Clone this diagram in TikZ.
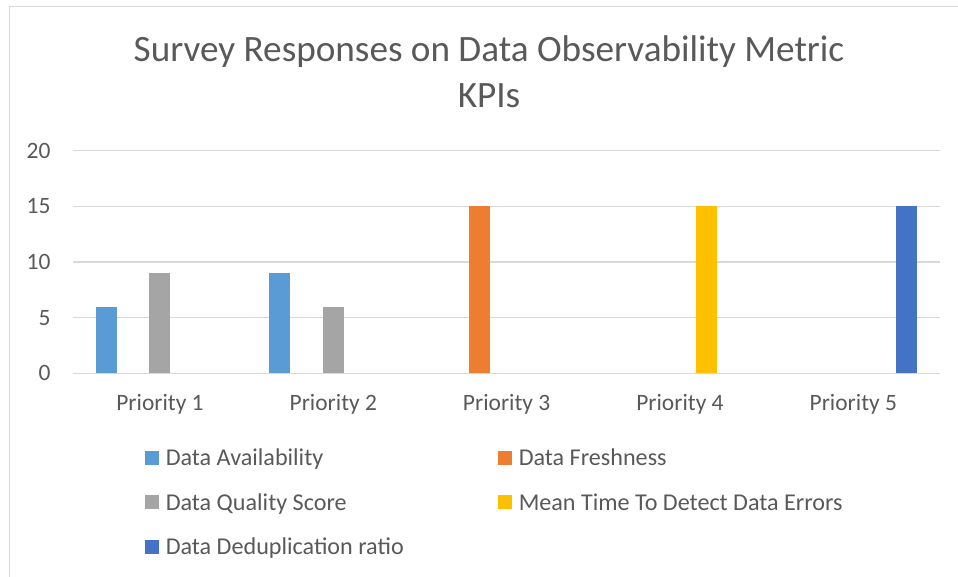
\documentclass[tikz,border=0pt]{standalone}
\usepackage{fontspec}
\setmainfont{Carlito}
\definecolor{txt}{HTML}{595959}
\definecolor{gridc}{HTML}{D9D9D9}
\definecolor{sA}{HTML}{5B9BD5}
\definecolor{sB}{HTML}{ED7D31}
\definecolor{sC}{HTML}{A5A5A5}
\definecolor{sD}{HTML}{FFC000}
\definecolor{sE}{HTML}{4472C4}
\tikzset{
  charttitle/.style={font=\fontsize{27.9}{33}\selectfont, text=txt, inner sep=0pt, anchor=base},
  axislabel/.style={font=\fontsize{17.6}{21}\selectfont, text=txt, inner sep=0pt},
  legendlabel/.style={font=\fontsize{18.1}{21}\selectfont, text=txt, inner sep=0pt, anchor=base west},
  gridline/.style={draw=gridc, line width=0.9pt},
  frameline/.style={draw=gridc, line width=1pt},
}
\begin{document}
\begin{tikzpicture}[x=0.75pt, y=-0.75pt]
  \useasboundingbox (0,0) rectangle (958,577);
  \fill[white] (0,0) rectangle (958,577);

  % chart area frame (left and top edges)
  \draw[frameline] (9.5,577) -- (9.5,6.5) -- (958,6.5);

  % title
  \node[charttitle] (title1) at (489,61.7) {Survey Responses on Data Observability Metric};
  \node[charttitle] (title2) at (489,107.3) {KPIs};

  % horizontal gridlines and value axis labels
  \foreach \v in {0,5,10,15,20} {
    \draw[gridline] (73.3,{373.3-11.13*\v}) -- (940,{373.3-11.13*\v});
    \node[axislabel, anchor=east] (ylab\v) at (50.7,{373.3-11.13*\v}) {\v};
  }

  % bars: category / series / value / colour
  \foreach \c/\s/\v/\col in {1/1/6/sA, 1/3/9/sC, 2/1/9/sA, 2/3/6/sC, 3/2/15/sB, 4/4/15/sD, 5/5/15/sE} {
    \pgfmathsetmacro\xc{73.3+173.33*(\c-0.5)+26.67*(\s-3)}
    \fill[\col] (\xc-10.5,373.3) rectangle (\xc+10.5,{373.3-11.13*\v});
  }

  % category labels
  \foreach \c in {1,...,5} {
    \node[axislabel, anchor=base] (cat\c) at ({73.3+173.33*(\c-0.5)},411) {Priority \c};
  }

  % legend
  \foreach \x/\yb/\col/\lab [count=\i] in {
      145/466/sA/Data Availability,
      498/466/sB/Data Freshness,
      145/510.5/sC/Data Quality Score,
      498/510.5/sD/Mean Time To Detect Data Errors,
      145/555/sE/Data Deduplication ratio} {
    \fill[\col] (\x,\yb-1) rectangle (\x+14,\yb-15);
    \node[legendlabel] (leg\i) at (\x+20.5,\yb) {\lab};
  }
\end{tikzpicture}
\end{document}
